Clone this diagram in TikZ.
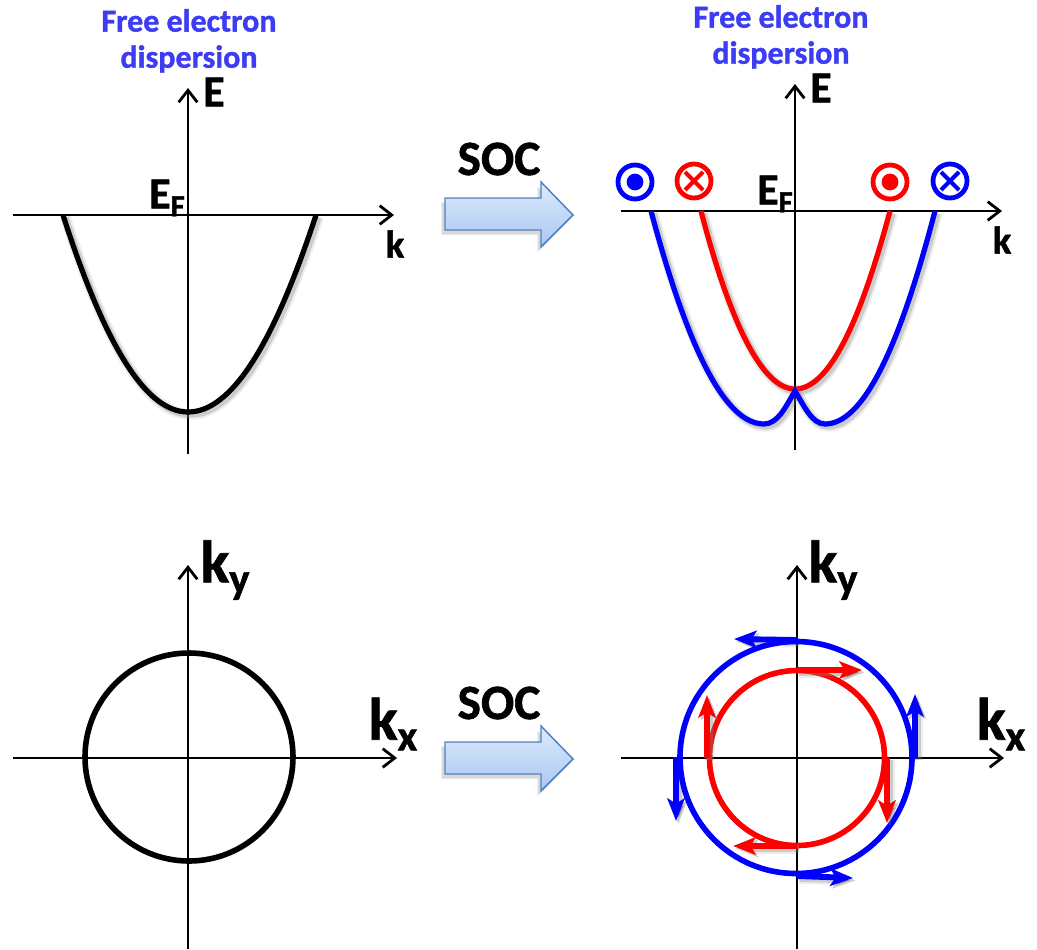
\documentclass[tikz,border=0pt]{standalone}
\usepackage{fontspec}
\setmainfont[BoldFeatures={FakeBold=1.2}]{Carlito}
\usetikzlibrary{arrows.meta,shapes.arrows}
\definecolor{titleblue}{HTML}{3C3CF2}
\definecolor{softgray}{HTML}{808080}
\definecolor{arrowedge}{HTML}{4F81BD}
\newcommand{\fs}[1]{\fontsize{#1}{#1}\selectfont\bfseries}
\tikzset{
  axis/.style={line width=2.1pt,-{Straight Barb[length=9pt,width=14pt,line width=2.1pt]}},
  softshadow/.style={
    preaction={draw=softgray,draw opacity=.14,line width=8pt,transform canvas={shift={(1.8pt,-1.8pt)}}},
    preaction={draw=softgray,draw opacity=.30,line width=5pt,transform canvas={shift={(1.8pt,-1.8pt)}}}},
  band/.style={line width=3.9pt,line cap=butt,softshadow},
  plainring/.style={line width=4.2pt},
  spin/.style={softshadow,line width=4.4pt,-{Stealth[length=17pt,width=13pt,inset=4pt]}},
  symring/.style={circle,draw,line width=3.6pt,minimum size=25.5pt,inner sep=0pt,outer sep=0pt},
  title/.style={text=titleblue,font=\fs{24},align=center,inner sep=0pt},
  axlabel/.style={font=\fs{33},inner sep=0pt},
  klabel/.style={font=\fs{29},inner sep=0pt},
  biglabel/.style={font=\fs{45},inner sep=0pt},
  soc/.style={font=\fs{37},inner sep=0pt},
  blockarrow/.style={draw=arrowedge,line width=1.1pt,top color=arrowtop,bottom color=arrowbottom,line join=miter,
    preaction={fill=softgray,fill opacity=.30,transform canvas={shift={(-2.5pt,-3.5pt)}}}},
}
\definecolor{arrowtop}{HTML}{DDE9FB}
\definecolor{arrowbottom}{HTML}{A9C9F2}
\begin{document}
\begin{tikzpicture}[x=0.75pt,y=-0.75pt]
\useasboundingbox (0,0) rectangle (1037,949);

% titles
\node[title] (t1a) at (189,20.5) {Free electron};
\node[title] (t1b) at (189,59) {dispersion};
\node[title] (t2a) at (781,16.5) {Free electron};
\node[title] (t2b) at (781,55) {dispersion};

% top left axes
\coordinate (a1w) at (13,215); \coordinate (a1e) at (394,215);
\coordinate (a1s) at (188,454); \coordinate (a1n) at (188,88);
\draw[axis] (a1w) -- (a1e);
\draw[axis] (a1s) -- (a1n);
\node[axlabel] (e1) at (214,92) {E};
\node[axlabel] (ef1) at (167,198) {E\raisebox{-6pt}{\fontsize{23}{23}\selectfont F}};
\node[klabel] (k1) at (395,244) {k};

% top left parabola
\coordinate (p1l) at (63,215); \coordinate (p1b) at (188,412); \coordinate (p1r) at (316,215);
\draw[band,black] (p1l) .. controls (105,346) and (146,412) .. (p1b)
   .. controls (231,412) and (273,346) .. (p1r);

% top arrow
\node[soc] (soc1) at (499,159) {SOC};
\path[blockarrow] (445,198) -- (541,198) -- (541,182) -- (573,215) -- (541,247) -- (541,230) -- (445,230) -- cycle;

% top right axes
\coordinate (a2w) at (621,211); \coordinate (a2e) at (1002,211);
\coordinate (a2s) at (795,450); \coordinate (a2n) at (795,84);
\draw[axis] (a2w) -- (a2e);
\draw[axis] (a2s) -- (a2n);
\node[axlabel] (e2) at (821,88) {E};
\node[axlabel] (ef2) at (775,194) {E\raisebox{-6pt}{\fontsize{23}{23}\selectfont F}};
\node[klabel] (k2) at (1002,240) {k};

% top right bands
\coordinate (rl) at (701,211); \coordinate (rb) at (795,389); \coordinate (rr) at (890,211);
\draw[band,red] (rl) .. controls (732,330) and (764,389) .. (rb)
   .. controls (827,389) and (858,330) .. (rr);
\coordinate (bl) at (651,211); \coordinate (bm1) at (764,424); \coordinate (bc) at (795,391);
\coordinate (bm2) at (825,424); \coordinate (br) at (935,211);
\draw[band,blue,line join=miter] (bl) .. controls (689,353) and (726,424) .. (bm1)
   .. controls (778,424) and (786,406) .. (bc)
   .. controls (804,406) and (812,424) .. (bm2)
   .. controls (862,424) and (898,353) .. (br);

% spin symbols
\node[symring,draw=blue] (s1) at (635,182) {};
\fill[blue] (s1.center) circle (6.3pt);
\node[symring,draw=red] (s2) at (694,181) {};
\draw[red,line width=3pt] (s2.center) ++(-9,-9) -- ++(18,18) ++(-18,0) -- ++(18,-18);
\node[symring,draw=red] (s3) at (890,182) {};
\fill[red] (s3.center) circle (6.3pt);
\node[symring,draw=blue] (s4) at (950,181) {};
\draw[blue,line width=3pt] (s4.center) ++(-9,-9) -- ++(18,18) ++(-18,0) -- ++(18,-18);

% bottom left
\coordinate (a3w) at (13,758); \coordinate (a3e) at (397,758);
\coordinate (a3s) at (188,949); \coordinate (a3n) at (188,565);
\draw[axis] (a3w) -- (a3e);
\draw[axis] (a3s) -- (a3n);
\coordinate (c1) at (189,757);
\draw[black,plainring] (c1) circle (104);
\node[biglabel] (ky1) at (225,570) {k\raisebox{-8pt}{\fontsize{32}{32}\selectfont y}};
\node[biglabel] (kx1) at (393,724) {k\raisebox{-8pt}{\fontsize{32}{32}\selectfont x}};

% bottom arrow
\node[soc] (soc2) at (499,703) {SOC};
\path[blockarrow] (445,742) -- (541,742) -- (541,726) -- (573,759) -- (541,791) -- (541,774) -- (445,774) -- cycle;

% bottom right
\coordinate (a4w) at (621,758); \coordinate (a4e) at (1004,758);
\coordinate (a4s) at (797,949); \coordinate (a4n) at (797,565);
\draw[axis] (a4w) -- (a4e);
\draw[axis] (a4s) -- (a4n);
\node[biglabel] (ky2) at (833,570) {k\raisebox{-8pt}{\fontsize{32}{32}\selectfont y}};
\node[biglabel] (kx2) at (1001,724) {k\raisebox{-8pt}{\fontsize{32}{32}\selectfont x}};
\coordinate (c2) at (796,757.5);
\coordinate (c3) at (797,758);

% spin arrows
\coordinate (u1) at (797,640); \coordinate (u1t) at (734,639);
\coordinate (u2) at (915,758); \coordinate (u2t) at (915,694);
\coordinate (u3) at (676,757); \coordinate (u3t) at (676,821);
\coordinate (u4) at (797,876); \coordinate (u4t) at (853,878);
\coordinate (v1) at (797,670); \coordinate (v1t) at (862,670);
\coordinate (v2) at (887,758); \coordinate (v2t) at (887,823);
\coordinate (v3) at (797,846); \coordinate (v3t) at (733,846);
\coordinate (v4) at (707,758); \coordinate (v4t) at (707,695);
\draw[spin,blue] (u1) -- (u1t);
\draw[spin,blue] (u2) -- (u2t);
\draw[spin,blue] (u3) -- (u3t);
\draw[spin,blue] (u4) -- (u4t);
\draw[blue,plainring] (c2) circle (116);
\draw[red,plainring] (c3) circle (87.5);
\draw[spin,red] (v1) -- (v1t);
\draw[spin,red] (v2) -- (v2t);
\draw[spin,red] (v3) -- (v3t);
\draw[spin,red] (v4) -- (v4t);
\end{tikzpicture}
\end{document}
